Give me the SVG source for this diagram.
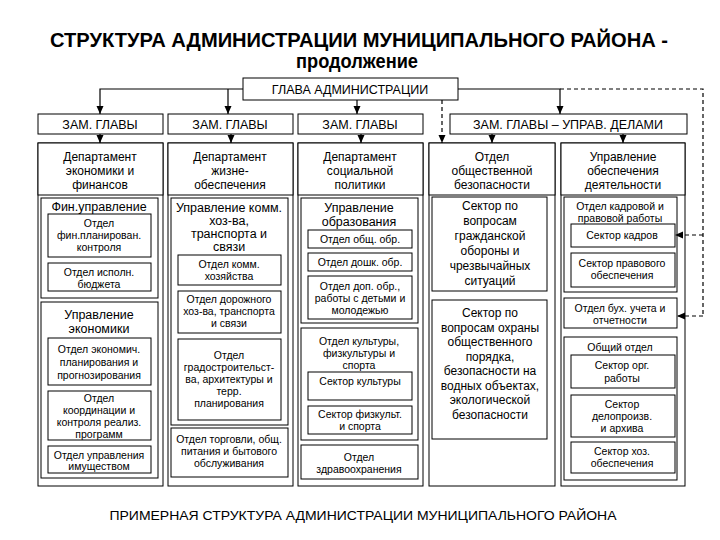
<svg xmlns="http://www.w3.org/2000/svg" width="720" height="540" viewBox="0 0 720 540">
<defs>
<style>
.b{fill:#fff;stroke:#000;stroke-width:1}
.f{fill:none;stroke:#000;stroke-width:1}
text{font-family:"Liberation Sans",Arial,sans-serif;fill:#000;text-anchor:middle}
.ttl{font-size:20px;font-weight:bold}
.top{font-size:12.5px}
.h{font-size:12px}
.l1{font-size:12.5px}
.l2{font-size:10.5px}
.c4{font-size:12px}
.c5{font-size:10.5px}
.cap{font-size:13px}
.ln{fill:none;stroke:#000;stroke-width:1.2}
.dl{fill:none;stroke:#000;stroke-width:1.2;stroke-dasharray:4 3}
</style>
<marker id="ah" viewBox="0 0 8 8" refX="8" refY="4" markerWidth="8" markerHeight="8" markerUnits="userSpaceOnUse" orient="auto"><path d="M0,0.5 L8,4 L0,7.5 z" fill="#000"/></marker>
</defs>
<rect width="720" height="540" fill="#fff"/>

<g id="title">
<text class="ttl" x="359" y="47" textLength="618" lengthAdjust="spacingAndGlyphs">СТРУКТУРА АДМИНИСТРАЦИИ МУНИЦИПАЛЬНОГО РАЙОНА -</text>
<text class="ttl" x="357" y="68" textLength="122" lengthAdjust="spacingAndGlyphs">продолжение</text>
</g>

<g id="connectors">
<path class="ln" d="M243,89 H100 V114" marker-end="url(#ah)"/>
<path class="ln" d="M228,89 V114" marker-end="url(#ah)"/>
<path class="ln" d="M357,100 V114" marker-end="url(#ah)"/>
<path class="ln" d="M458,89 H560 V114" marker-end="url(#ah)"/>
<path class="dl" d="M560,89 H703 V316"/>
<path class="dl" d="M703,235 H675" marker-end="url(#ah)"/>
<path class="dl" d="M703,316 H677" marker-end="url(#ah)"/>
<path class="dl" d="M442,100 V143" marker-end="url(#ah)"/>
<path class="ln" d="M100,134 V143" marker-end="url(#ah)"/>
<path class="ln" d="M231,134 V143" marker-end="url(#ah)"/>
<path class="ln" d="M361,134 V143" marker-end="url(#ah)"/>
<path class="ln" d="M492,134 V143" marker-end="url(#ah)"/>
<path class="ln" d="M623,134 V143" marker-end="url(#ah)"/>
</g>

<g id="head">
<rect class="b" x="243" y="78" width="215" height="22"/>
<text class="top" x="350" y="93.5">ГЛАВА АДМИНИСТРАЦИИ</text>
</g>

<g id="zam1"><rect class="b" x="38" y="114" width="125" height="20"/><text class="top" x="100" y="128.5">ЗАМ. ГЛАВЫ</text></g>
<g id="zam2"><rect class="b" x="168" y="114" width="125" height="20"/><text class="top" x="230" y="128.5">ЗАМ. ГЛАВЫ</text></g>
<g id="zam3"><rect class="b" x="298" y="114" width="125" height="20"/><text class="top" x="360" y="128.5">ЗАМ. ГЛАВЫ</text></g>
<g id="zam4"><rect class="b" x="450" y="114" width="237" height="20"/><text class="top" x="568" y="128.5">ЗАМ. ГЛАВЫ – УПРАВ. ДЕЛАМИ</text></g>

<!-- Column 1 -->
<g id="col1">
<rect class="f" x="38" y="143" width="125" height="343"/>
<rect class="b" x="38" y="143" width="125" height="52"/>
<text class="h" x="100" y="161">Департамент</text>
<text class="h" x="100" y="175">экономики и</text>
<text class="h" x="100" y="189">финансов</text>
<g id="fin">
<rect class="f" x="41" y="198" width="117" height="100"/>
<text class="l1" x="99" y="210.5">Фин.управление</text>
<rect class="f" x="48" y="214" width="103" height="43"/>
<text class="l2" x="99" y="227">Отдел</text>
<text class="l2" x="99" y="239">фин.планирован.</text>
<text class="l2" x="99" y="251">контроля</text>
<rect class="f" x="48" y="263" width="103" height="28"/>
<text class="l2" x="99" y="275.5">Отдел исполн.</text>
<text class="l2" x="99" y="287.5">бюджета</text>
</g>
<g id="econ">
<rect class="f" x="41" y="302" width="117" height="176"/>
<text class="l1" x="99" y="319">Управление</text>
<text class="l1" x="99" y="333">экономики</text>
<rect class="f" x="48" y="338" width="103" height="47"/>
<text class="l2" x="99" y="352.5">Отдел экономич.</text>
<text class="l2" x="99" y="365.5">планирования и</text>
<text class="l2" x="99" y="378.5">прогнозирования</text>
<rect class="f" x="48" y="391" width="103" height="49"/>
<text class="l2" x="99" y="402">Отдел</text>
<text class="l2" x="99" y="414">координации и</text>
<text class="l2" x="99" y="426">контроля реализ.</text>
<text class="l2" x="99" y="438">программ</text>
<rect class="f" x="48" y="446" width="103" height="27"/>
<text class="l2" x="99" y="458.5">Отдел управления</text>
<text class="l2" x="99" y="470">имуществом</text>
</g>
</g>

<!-- Column 2 -->
<g id="col2">
<rect class="f" x="168" y="143" width="125" height="343"/>
<rect class="b" x="168" y="143" width="125" height="52"/>
<text class="h" x="230" y="161">Департамент</text>
<text class="h" x="230" y="175">жизне-</text>
<text class="h" x="230" y="189">обеспечения</text>
<g id="komm">
<rect class="f" x="171" y="198" width="117" height="227"/>
<text class="l1" x="229" y="211.5">Управление комм.</text>
<text class="l1" x="229" y="224.5">хоз-ва,</text>
<text class="l1" x="229" y="237.5">транспорта и</text>
<text class="l1" x="229" y="250.5">связи</text>
<rect class="f" x="178" y="255" width="103" height="30"/>
<text class="l2" x="229" y="267.5">Отдел комм.</text>
<text class="l2" x="229" y="279.5">хозяйства</text>
<rect class="f" x="178" y="291" width="103" height="42"/>
<text class="l2" x="229" y="302.5">Отдел дорожного</text>
<text class="l2" x="229" y="314.5">хоз-ва, транспорта</text>
<text class="l2" x="229" y="326.5">и связи</text>
<rect class="f" x="178" y="339" width="103" height="81"/>
<text class="l2" x="229" y="358.5">Отдел</text>
<text class="l2" x="229" y="370.5">градостроительст-</text>
<text class="l2" x="229" y="382.5">ва, архитектуры и</text>
<text class="l2" x="229" y="394.5">терр.</text>
<text class="l2" x="229" y="406.5">планирования</text>
</g>
<g id="trade">
<rect class="f" x="171" y="428" width="117" height="49"/>
<text class="l2" x="229" y="442.5">Отдел торговли, общ.</text>
<text class="l2" x="229" y="454.5">питания и бытового</text>
<text class="l2" x="229" y="466.5">обслуживания</text>
</g>
</g>

<!-- Column 3 -->
<g id="col3">
<rect class="f" x="298" y="143" width="125" height="343"/>
<rect class="b" x="298" y="143" width="125" height="52"/>
<text class="h" x="360" y="161">Департамент</text>
<text class="h" x="360" y="175">социальной</text>
<text class="h" x="360" y="189">политики</text>
<g id="edu">
<rect class="f" x="301" y="198" width="117" height="125"/>
<text class="l1" x="359" y="212">Управление</text>
<text class="l1" x="359" y="226">образования</text>
<rect class="f" x="308" y="230" width="104" height="18"/>
<text class="l2" x="360" y="242.5">Отдел общ. обр.</text>
<rect class="f" x="308" y="253" width="104" height="18"/>
<text class="l2" x="360" y="265.5">Отдел дошк. обр.</text>
<rect class="f" x="308" y="276" width="104" height="43"/>
<text class="l2" x="360" y="289.5">Отдел доп. обр.,</text>
<text class="l2" x="360" y="301.5">работы с детьми и</text>
<text class="l2" x="360" y="313.5">молодежью</text>
</g>
<g id="cult">
<rect class="f" x="301" y="328" width="117" height="112"/>
<text class="l2" x="359" y="345">Отдел культуры,</text>
<text class="l2" x="359" y="357">физкультуры и</text>
<text class="l2" x="359" y="369">спорта</text>
<rect class="f" x="308" y="372" width="104" height="28"/>
<text class="l2" x="360" y="385">Сектор культуры</text>
<rect class="f" x="308" y="406" width="104" height="28"/>
<text class="l2" x="360" y="417.5">Сектор физкульт.</text>
<text class="l2" x="360" y="429.5">и спорта</text>
</g>
<g id="health">
<rect class="f" x="301" y="445" width="117" height="34"/>
<text class="l2" x="359" y="460.5">Отдел</text>
<text class="l2" x="359" y="473">здравоохранения</text>
</g>
</g>

<!-- Column 4 -->
<g id="col4">
<rect class="f" x="429" y="143" width="126" height="343"/>
<rect class="b" x="429" y="143" width="126" height="52"/>
<text class="h" x="492" y="161">Отдел</text>
<text class="h" x="492" y="175">общественной</text>
<text class="h" x="492" y="189">безопасности</text>
<g id="go">
<rect class="f" x="432" y="197" width="115" height="94"/>
<text class="c4" x="490" y="210">Сектор по</text>
<text class="c4" x="490" y="225">вопросам</text>
<text class="c4" x="490" y="240">гражданской</text>
<text class="c4" x="490" y="255">обороны и</text>
<text class="c4" x="490" y="270">чрезвычайных</text>
<text class="c4" x="490" y="285">ситуаций</text>
</g>
<g id="order">
<rect class="f" x="432" y="300" width="115" height="139"/>
<text class="c4" x="490" y="317">Сектор по</text>
<text class="c4" x="490" y="331.5">вопросам охраны</text>
<text class="c4" x="490" y="346">общественного</text>
<text class="c4" x="490" y="360.5">порядка,</text>
<text class="c4" x="490" y="375">безопасности на</text>
<text class="c4" x="490" y="389.5">водных объектах,</text>
<text class="c4" x="490" y="404">экологической</text>
<text class="c4" x="490" y="418.5">безопасности</text>
</g>
</g>

<!-- Column 5 -->
<g id="col5">
<rect class="f" x="561" y="143" width="124" height="343"/>
<rect class="b" x="561" y="143" width="124" height="52"/>
<text class="h" x="623" y="161">Управление</text>
<text class="h" x="623" y="175">обеспечения</text>
<text class="h" x="623" y="189">деятельности</text>
<g id="kadr">
<rect class="f" x="564" y="197" width="113" height="95"/>
<text class="c5" x="620" y="209.5">Отдел кадровой и</text>
<text class="c5" x="620" y="221.5">правовой работы</text>
<rect class="f" x="571" y="224" width="104" height="23"/>
<text class="c5" x="622" y="239">Сектор кадров</text>
<rect class="f" x="571" y="253" width="104" height="34"/>
<text class="c5" x="622" y="266.5">Сектор правового</text>
<text class="c5" x="622" y="278.5">обеспечения</text>
</g>
<g id="buh">
<rect class="f" x="564" y="298" width="113" height="30"/>
<text class="c5" x="620" y="311.5">Отдел бух. учета и</text>
<text class="c5" x="620" y="324">отчетности</text>
</g>
<g id="general">
<rect class="f" x="564" y="337" width="113" height="143"/>
<text class="c5" x="620" y="350.5">Общий отдел</text>
<rect class="f" x="571" y="355" width="104" height="33"/>
<text class="c5" x="622" y="368.5">Сектор орг.</text>
<text class="c5" x="622" y="381.5">работы</text>
<rect class="f" x="571" y="395" width="104" height="42"/>
<text class="c5" x="622" y="407.5">Сектор</text>
<text class="c5" x="622" y="420">делопроизв.</text>
<text class="c5" x="622" y="432">и архива</text>
<rect class="f" x="571" y="442" width="104" height="31"/>
<text class="c5" x="622" y="454.5">Сектор хоз.</text>
<text class="c5" x="622" y="466.5">обеспечения</text>
</g>
</g>

<text class="cap" x="363" y="520" textLength="507" lengthAdjust="spacingAndGlyphs">ПРИМЕРНАЯ СТРУКТУРА АДМИНИСТРАЦИИ МУНИЦИПАЛЬНОГО РАЙОНА</text>
</svg>
